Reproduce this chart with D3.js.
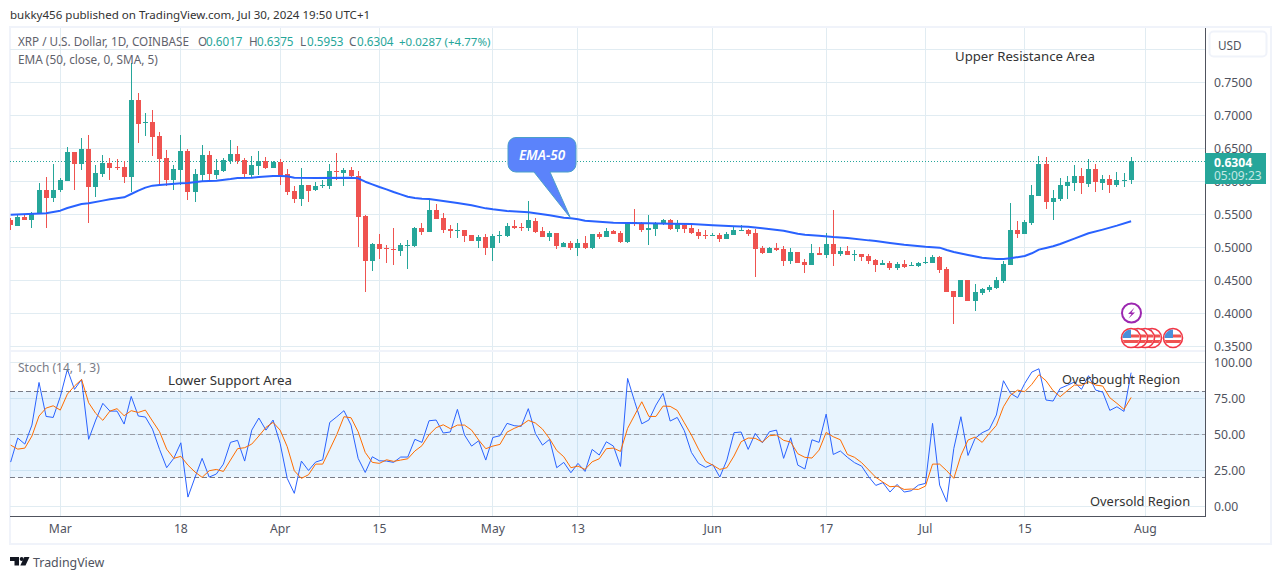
<!DOCTYPE html>
<html>
<head>
<meta charset="utf-8">
<script src="https://cdn.jsdelivr.net/npm/d3@7"></script>
<style>
  html, body { margin: 0; padding: 0; background: #fff; }
  svg { display: block; }
  text { font-family: "Noto Sans", sans-serif; }
</style>
</head>
<body>
<svg id="chart" width="1281" height="579"></svg>
<script>
// Daily candles, one entry per day starting Feb 23 2024
const firstDay = new Date(Date.UTC(2024, 1, 23));

const opens = [
  .5414,.5323,.5459,.5414,.5505,.5869,.5747,.5869,.6005,.6444,
  .6262,.6490,.5914,.6111,.6278,.6217,.6217,.6066,.7232,.6884,
  .6899,.6687,.6353,.6020,.6172,.6459,.5838,.6096,.6399,.6096,
  .6156,.6308,.6414,.6323,.6096,.6232,.6308,.6202,.6293,.6111,
  .5853,.5732,.5944,.5868,.5929,.5929,.6156,.6126,.6171,.6080,
  .5474,.4792,.5050,.4994,.4974,.4944,.5025,.5020,.5292,.5232,
  .5565,.5444,.5277,.5252,.5262,.5186,.5095,.5156,.4989,.5176,
  .5171,.5323,.5307,.5292,.5398,.5247,.5156,.5217,.5004,.5065,
  .4989,.5065,.4989,.5201,.5156,.5247,.5217,.5080,.5383,.5368,
  .5262,.5277,.5353,.5414,.5277,.5338,.5292,.5232,.5186,.5176,
  .5186,.5126,.5186,.5252,.5262,.5217,.4989,.4914,.4989,.4974,
  .4792,.4929,.4777,.4732,.4914,.4883,.5050,.4898,.4944,.4883,
  .4899,.4869,.4808,.4732,.4763,.4687,.4747,.4717,.4717,.4763,
  .4763,.4853,.4672,.4338,.4247,.4505,.4187,.4308,.4353,.4384,
  .4490,.4732,.5262,.5202,.5369,.5778,.6262,.5687,.5732,.5929,
  .5975,.6081,.5959,.6187,.5975,.6035,.5944,.6010,.6017
];
const highs = [
  .5444,.5490,.5490,.5535,.5975,.6066,.6262,.6050,.6520,.6444,
  .6656,.6702,.6247,.6399,.6353,.6338,.6303,.7793,.7338,.7035,
  .7080,.6747,.6475,.6247,.6702,.6490,.6187,.6550,.6459,.6338,
  .6353,.6626,.6535,.6353,.6384,.6459,.6368,.6308,.6338,.6187,
  .5929,.6201,.5944,.5989,.6020,.6262,.6429,.6201,.6216,.6156,
  .5489,.5065,.5201,.5035,.5292,.5065,.5110,.5307,.5368,.5716,
  .5656,.5520,.5338,.5368,.5262,.5186,.5186,.5201,.5201,.5247,
  .5368,.5413,.5368,.5701,.5444,.5307,.5247,.5217,.5080,.5095,
  .5126,.5171,.5201,.5232,.5292,.5262,.5247,.5383,.5580,.5383,
  .5489,.5383,.5429,.5429,.5414,.5368,.5338,.5277,.5262,.5217,
  .5217,.5232,.5307,.5338,.5277,.5277,.5020,.5004,.5065,.5020,
  .4989,.4929,.4823,.5050,.5004,.5217,.5565,.5004,.5020,.4959,
  .4899,.4899,.4823,.4808,.4793,.4778,.4808,.4778,.4778,.4853,
  .4884,.4869,.4702,.4338,.4505,.4505,.4444,.4384,.4429,.4550,
  .4793,.5672,.5399,.5414,.5944,.6384,.6368,.5869,.6050,.6081,
  .6247,.6202,.6338,.6262,.6096,.6096,.6141,.6126,.6375
];
const lows = [
  .5262,.5323,.5414,.5293,.5505,.5293,.5687,.5838,.6005,.5869,
  .6172,.5368,.5762,.6066,.6020,.6172,.5975,.5838,.6581,.6687,
  .6384,.5959,.5929,.5869,.5944,.5717,.5687,.5990,.5990,.6035,
  .6141,.6262,.6262,.6066,.6050,.6096,.6187,.6202,.5944,.5793,
  .5672,.5626,.5686,.5853,.5898,.5883,.6020,.5929,.6035,.5004,
  .4323,.4641,.4823,.4762,.4732,.4868,.4671,.5004,.5186,.5232,
  .5429,.5217,.5141,.5141,.5080,.5095,.4989,.4883,.4792,.5065,
  .5156,.5277,.5247,.5247,.5217,.5156,.5095,.4974,.5004,.4959,
  .4868,.4974,.4974,.5126,.5156,.5201,.5065,.5065,.5323,.5232,
  .5035,.5171,.5338,.5262,.5232,.5217,.5201,.5126,.5126,.5171,
  .5080,.5126,.5186,.5247,.5171,.4550,.4898,.4914,.4944,.4717,
  .4747,.4762,.4611,.4732,.4883,.4838,.4717,.4868,.4883,.4792,
  .4793,.4747,.4626,.4732,.4657,.4657,.4687,.4717,.4702,.4747,
  .4763,.4611,.4323,.3838,.4247,.4187,.4035,.4278,.4323,.4369,
  .4460,.4732,.5141,.5202,.5338,.5778,.5581,.5414,.5702,.5732,
  .5853,.5808,.5914,.5838,.5869,.5823,.5914,.5914,.5953
];
const closes = [
  .5338,.5459,.5414,.5520,.5869,.5747,.5869,.6020,.6444,.6262,
  .6490,.5914,.6126,.6278,.6202,.6202,.6066,.7232,.6868,.6899,
  .6671,.6338,.6020,.6187,.6459,.5838,.6111,.6399,.6111,.6172,
  .6323,.6414,.6308,.6111,.6247,.6308,.6202,.6293,.6096,.5838,
  .5732,.5944,.5853,.5929,.5944,.6156,.6141,.6171,.6080,.5459,
  .4792,.5050,.4974,.4979,.4959,.5035,.5035,.5292,.5232,.5565,
  .5429,.5262,.5252,.5262,.5171,.5095,.5156,.4989,.5171,.5186,
  .5323,.5292,.5297,.5413,.5232,.5156,.5217,.5020,.5065,.4989,
  .5065,.4989,.5201,.5156,.5247,.5201,.5080,.5378,.5363,.5262,
  .5292,.5368,.5414,.5277,.5348,.5277,.5217,.5171,.5176,.5186,
  .5126,.5201,.5262,.5262,.5201,.4974,.4914,.4989,.4959,.4792,
  .4929,.4762,.4732,.4914,.4883,.5050,.4898,.4944,.4883,.4898,
  .4853,.4793,.4732,.4763,.4687,.4747,.4702,.4732,.4763,.4778,
  .4853,.4657,.4323,.4247,.4505,.4187,.4323,.4369,.4399,.4505,
  .4747,.5262,.5202,.5384,.5793,.6262,.5687,.5747,.5944,.5990,
  .6081,.5975,.6187,.5990,.6035,.5944,.6020,.6020,.6304
];

// EMA-50, read at the days where the line bends
const emaDays = [
  0,5,7,8,10,11,13,14,16,17,18,19,20,21,24,25,27,29,31,32,34,35,37,38,39,40,43,48,
  49,50,51,52,53,54,55,56,57,58,59,61,63,65,67,68,70,73,74,76,78,79,80,81,83,85,87,
  90,93,96,99,102,104,106,109,111,112,114,116,118,121,122,124,126,129,131,132,133,
  135,137,139,140,141,143,144,145,146,147,148,150,152,154,156,158
];
const emaValues = [
  .5495,.5515,.5555,.5596,.5656,.5667,.5707,.5727,.5757,.5808,.5858,.5904,.5934,.5944,
  .5970,.5975,.6000,.6010,.6035,.6050,.6055,.6066,.6081,.6081,.6076,.6055,.6050,.6055,
  .6045,.5994,.5954,.5913,.5878,.5838,.5802,.5767,.5747,.5737,.5732,.5701,.5671,.5636,
  .5590,.5575,.5550,.5530,.5515,.5484,.5449,.5439,.5424,.5403,.5388,.5373,.5368,
  .5363,.5358,.5353,.5333,.5318,.5312,.5287,.5252,.5206,.5191,.5176,.5156,.5141,.5105,
  .5096,.5066,.5040,.5010,.4995,.4960,.4929,.4884,.4843,.4823,.4823,.4833,.4869,.4909,
  .4965,.4990,.5015,.5050,.5131,.5212,.5268,.5328,.5394
];

// Stochastic (14, 1, 3)
const stochK = [
  30.7,47.4,43.2,56.4,86.0,62.4,61.7,76.1,95.1,81.2,
  88.1,46.5,59.9,71.5,66.1,66.1,57.1,76.3,62.7,62.0,
  53.6,39.5,26.8,33.3,44.1,6.4,20.1,33.3,20.3,22.4,
  29.3,44.4,45.8,31.4,52.9,61.3,52.9,59.9,43.7,19.4,
  9.0,31.4,24.9,30.7,32.3,58.3,62.2,66.4,56.4,33.3,
  23.5,34.4,31.6,31.4,30.5,34.2,34.2,46.5,44.4,59.4,
  59.9,50.9,51.6,67.3,49.5,41.8,45.5,32.1,47.8,49.0,
  57.6,56.0,55.5,67.8,50.6,42.5,46.5,26.8,30.5,23.3,
  29.8,24.2,39.5,35.6,44.8,41.8,27.7,88.8,72.6,57.3,
  59.9,70.3,78.4,59.2,61.7,52.5,37.4,29.8,27.0,29.1,
  20.3,32.1,51.1,51.6,39.5,50.6,44.1,51.8,52.9,33.3,
  47.6,28.6,25.9,46.2,44.4,64.0,36.0,38.4,34.0,30.3,
  27.9,20.5,14.5,16.4,9.9,15.2,9.9,10.8,14.7,15.9,
  57.6,14.7,3.2,40.2,62.2,35.3,47.2,51.1,53.4,63.4,
  87.2,78.4,75.4,85.3,93.2,95.5,73.8,73.1,81.9,84.0,
  86.3,81.2,90.7,80.7,79.3,66.6,69.1,65.9,92.8
];
const stochD = [
  42.5,39.7,40.4,48.8,62.7,68.2,69.8,66.8,77.9,83.5,
  88.1,71.9,64.5,59.7,66.1,67.8,62.9,66.4,65.2,66.8,
  59.2,51.8,39.7,33.3,34.7,28.6,23.8,20.1,24.7,25.6,
  24.2,32.1,40.0,40.7,43.2,48.8,54.8,58.3,52.9,41.4,
  24.7,19.4,21.9,29.3,29.3,39.5,49.9,62.2,61.5,51.8,
  37.4,30.5,29.8,32.3,31.2,32.1,33.0,38.4,42.1,49.7,
  54.6,56.6,53.9,56.4,56.4,52.9,46.0,40.0,41.8,43.0,
  51.5,54.1,56.2,59.7,57.8,53.6,46.9,38.8,34.4,26.8,
  27.9,25.6,30.9,33.0,40.0,40.4,38.1,54.1,63.4,72.6,
  62.4,62.4,69.6,69.4,66.6,58.0,49.5,39.7,31.2,28.6,
  25.6,26.8,34.9,44.8,47.4,47.2,44.6,49.0,49.5,45.8,
  44.6,36.5,34.0,33.5,39.0,51.3,48.3,46.2,36.0,34.0,
  30.3,25.2,20.1,16.8,13.6,14.0,11.7,12.0,11.7,14.0,
  29.3,29.3,24.7,19.4,35.3,46.0,48.1,44.4,50.6,56.2,
  69.1,77.2,80.7,79.6,84.7,91.4,87.2,80.3,76.1,80.3,
  84.2,84.0,86.5,84.2,83.5,75.4,71.5,67.3,75.6
];

const priceTicks = [0.75, 0.70, 0.65, 0.60, 0.55, 0.50, 0.45, 0.40, 0.35];
const priceGrid = [0.80].concat(priceTicks);
const stochTicks = [100, 75, 50, 25, 0];
const stochBands = [80, 50, 20];
const timeTickDates = [[2,1],[2,18],[3,1],[3,15],[4,1],[4,13],[5,1],[5,17],[6,1],[6,15],[7,1]]
  .map(d => new Date(Date.UTC(2024, d[0], d[1])));
const timeTickLabels = ["Mar","18","Apr","15","May","13","Jun","17","Jul","15","Aug"];

const GREEN = "#26a69a", RED = "#ef5350", GRID = "#e1ecf2", FRAME = "#f0f3fa", INK = "#50535e";

const svg = d3.select("#chart");

// scales
const x = d3.scaleUtc()
  .domain([firstDay, d3.utcDay.offset(firstDay, 158)])
  .range([10.65, 1131.1]);
const dayX = i => x(d3.utcDay.offset(firstDay, i));
const yPrice = d3.scaleLinear().domain([0.35, 0.75]).range([346.3, 82.3]);
const yStoch = d3.scaleLinear().domain([0, 100]).range([506.3, 362.3]);

const snap = v => Math.floor(v) + 0.5;

// clips for the two panes
const defs = svg.append("defs");
defs.append("clipPath").attr("id", "pricePane").append("rect")
  .attr("x", 10).attr("y", 28).attr("width", 1195).attr("height", 322);
defs.append("clipPath").attr("id", "stochPane").append("rect")
  .attr("x", 10).attr("y", 352).attr("width", 1195).attr("height", 164);

// frame
svg.append("rect").attr("x", 10).attr("y", 27).attr("width", 1261).attr("height", 517)
  .attr("fill", "#fff").attr("stroke", FRAME).attr("stroke-width", 2);

// grid
const grid = svg.append("g").attr("fill", "none").attr("stroke", GRID);
grid.selectAll(".v1").data(timeTickDates).join("line")
  .attr("x1", d => snap(x(d))).attr("x2", d => snap(x(d))).attr("y1", 28).attr("y2", 350);
grid.selectAll(".v2").data(timeTickDates).join("line").attr("class", "v2")
  .attr("x1", d => snap(x(d))).attr("x2", d => snap(x(d))).attr("y1", 352).attr("y2", 516);
grid.selectAll(".h1").data(priceGrid).join("line").attr("class", "h1")
  .attr("x1", 10).attr("x2", 1205).attr("y1", d => snap(yPrice(d))).attr("y2", d => snap(yPrice(d)));
grid.selectAll(".h2").data(stochTicks).join("line").attr("class", "h2")
  .attr("x1", 10).attr("x2", 1205).attr("y1", d => snap(yStoch(d))).attr("y2", d => snap(yStoch(d)));

// stochastic band under the lines
svg.append("rect")
  .attr("x", 10).attr("width", 1195)
  .attr("y", yStoch(80)).attr("height", yStoch(20) - yStoch(80))
  .attr("fill", "#2196f3").attr("fill-opacity", 0.1);
svg.append("g").selectAll("line").data(stochBands).join("line")
  .attr("x1", 10).attr("x2", 1205)
  .attr("y1", d => snap(yStoch(d))).attr("y2", d => snap(yStoch(d)))
  .attr("stroke", d => d === 50 ? "#9a9da6" : "#787b86")
  .attr("stroke-dasharray", "5 3");

// pane separators and axis lines
svg.append("rect").attr("x", 10).attr("y", 350).attr("width", 1196).attr("height", 2).attr("fill", FRAME);
svg.append("line").attr("x1", 10).attr("x2", 1205.5).attr("y1", 516.5).attr("y2", 516.5).attr("stroke", "#50535e");
svg.append("line").attr("x1", 1205.5).attr("x2", 1205.5).attr("y1", 28).attr("y2", 517).attr("stroke", "#50535e");

// last price dotted line
svg.append("line").attr("x1", 10).attr("x2", 1205)
  .attr("y1", snap(yPrice(closes[158]))).attr("y2", snap(yPrice(closes[158])))
  .attr("stroke", GREEN).attr("stroke-dasharray", "1 2");

// candles
const candles = svg.append("g").attr("clip-path", "url(#pricePane)")
  .selectAll("g").data(d3.range(opens.length)).join("g")
  .attr("fill", i => closes[i] >= opens[i] ? GREEN : RED);
candles.append("rect")
  .attr("x", i => Math.round(dayX(i) - 2.5) + 2).attr("width", 1)
  .attr("y", i => Math.round(yPrice(highs[i])))
  .attr("height", i => Math.round(yPrice(lows[i])) - Math.round(yPrice(highs[i])));
candles.append("rect")
  .attr("x", i => Math.round(dayX(i) - 2.5)).attr("width", 5)
  .attr("y", i => Math.round(yPrice(Math.max(opens[i], closes[i]))))
  .attr("height", i => Math.max(1, Math.round(yPrice(Math.min(opens[i], closes[i]))) - Math.round(yPrice(Math.max(opens[i], closes[i])))));

// EMA line
const emaLine = d3.line().x(d => dayX(d)).y((d, i) => yPrice(emaValues[i]));
svg.append("path").attr("clip-path", "url(#pricePane)")
  .attr("d", emaLine(emaDays)).attr("fill", "none")
  .attr("stroke", "#2962ff").attr("stroke-width", 2).attr("stroke-linejoin", "round");

// stochastic lines
const stochLine = values => d3.line().x((d, i) => dayX(i)).y(d => yStoch(d))(values);
const stochG = svg.append("g").attr("clip-path", "url(#stochPane)").attr("fill", "none");
stochG.append("path").attr("d", stochLine(stochK)).attr("stroke", "#2962ff").attr("stroke-width", 1);
stochG.append("path").attr("d", stochLine(stochD)).attr("stroke", "#ff6d00").attr("stroke-width", 1);

// axes
const styleAxis = g => {
  g.select(".domain").remove();
  g.selectAll("line").remove();
  g.selectAll("text").attr("fill", INK).style("font-size", "12.2px");
};
svg.append("g").attr("transform", "translate(1214,0)")
  .call(d3.axisRight(yPrice).tickValues(priceTicks).tickSize(0).tickPadding(0).tickFormat(d3.format(".4f")))
  .call(styleAxis);
svg.append("g").attr("transform", "translate(1214,0)")
  .call(d3.axisRight(yStoch).tickValues(stochTicks).tickSize(0).tickPadding(0).tickFormat(d3.format(".2f")))
  .call(styleAxis);
svg.append("g").attr("transform", "translate(-0.5,524.5)")
  .call(d3.axisBottom(x).tickValues(timeTickDates).tickSize(0).tickPadding(0)
    .tickFormat((d, i) => timeTickLabels[i]))
  .call(styleAxis);

// helper for plain labels
const label = (str, px, py, fill, size, extra) => {
  const t = svg.append("text").attr("x", px).attr("y", py).attr("fill", fill)
    .attr("dominant-baseline", "central").style("font-size", size + "px").text(str);
  if (extra) extra(t);
  return t;
};

// header and legend
label("bukky456 published on TradingView.com, Jul 30, 2024 19:50 UTC+1", 10, 14, "#333", 11.55);
label("XRP / U.S. Dollar, 1D, COINBASE", 18, 41, "#5f626c", 11.7);
[["O", 198, "0.6017", 206], ["H", 249, "0.6375", 257], ["L", 300, "0.5953", 307], ["C", 349, "0.6304", 357]]
  .forEach(d => {
    label(d[0], d[1], 41, "#5f626c", 11.7);
    label(d[2], d[3], 41, GREEN, 11.7);
  });
label("+0.0287 (+4.77%)", 399, 41, GREEN, 11.5);
label("EMA (50, close, 0, SMA, 5)", 18, 59, "#5f626c", 11.8);
label("Stoch (14, 1, 3)", 18, 367, "#787b86", 12);

// annotations
label("Upper Resistance Area", 955, 56, "#333", 13.2);
label("Lower Support Area", 168, 380, "#333", 13.3);
label("Overbought Region", 1062, 379, "#333", 12.8);
label("Oversold Region", 1090, 501, "#333", 12.9);

// EMA-50 callout
svg.append("path")
  .attr("d", "M516 137.5H568a8 8 0 0 1 8 8V164a8 8 0 0 1 -8 8H550L570.5 218L534 172H516a8 8 0 0 1 -8 -8V145.5a8 8 0 0 1 8 -8Z")
  .attr("fill", "#5b83fb").attr("stroke", "#4b9fc9").attr("stroke-width", 1);
label("EMA-50", 542, 154.5, "#fff", 13.5, t => t.attr("text-anchor", "middle")
  .style("font-style", "italic").style("font-weight", 600));

// USD button
svg.append("rect").attr("x", 1209.5).attr("y", 31.5).attr("width", 57).attr("height", 25).attr("rx", 4)
  .attr("fill", "#fff").attr("stroke", FRAME).attr("stroke-width", 2);
label("USD", 1218, 45, "#50535e", 11.7);

// last price tag
svg.append("rect").attr("x", 1205).attr("y", 153).attr("width", 61).attr("height", 31).attr("fill", GREEN);
label("0.6304", 1214, 162, "#fff", 12.2, t => t.style("font-weight", 700));
label("05:09:23", 1214, 175.5, "#c4e8e4", 12);

// event markers
const marks = svg.append("g");
marks.append("circle").attr("cx", 1131.5).attr("cy", 313).attr("r", 9.5)
  .attr("fill", "#fff").attr("stroke", "#9c27b0").attr("stroke-width", 2);
marks.append("path").attr("d", "M1134.5 307.5L1128 314H1131.5L1128.5 318.5L1135 312.5H1131.5Z").attr("fill", "#9c27b0");

const flag = cx => {
  const g = marks.append("g").attr("transform", `translate(${cx},338)`);
  const id = "flag" + Math.round(cx);
  defs.append("clipPath").attr("id", id).append("circle").attr("r", 8.5);
  g.append("circle").attr("r", 9.5).attr("fill", "#fff").attr("stroke", "#f23645").attr("stroke-width", 1.6);
  const inner = g.append("g").attr("clip-path", `url(#${id})`);
  inner.append("rect").attr("x", -9).attr("y", -3.5).attr("width", 18).attr("height", 3).attr("fill", "#ef5350");
  inner.append("rect").attr("x", -9).attr("y", 2).attr("width", 18).attr("height", 3).attr("fill", "#ef5350");
  inner.append("rect").attr("x", -9).attr("y", -9).attr("width", 9).attr("height", 9).attr("fill", "#4a90d9");
};
[1173, 1152, 1145, 1138, 1131].forEach(flag);

// TradingView logo
const logo = svg.append("g").attr("fill", "#131722");
logo.append("path").attr("d", "M10 557H19V565.5H14.5V561H10Z");
logo.append("circle").attr("cx", 21.7).attr("cy", 559).attr("r", 2);
logo.append("path").attr("d", "M24.3 557H29.5L25.5 565.5H20.3Z");
label("TradingView", 33, 562, "#50535e", 12.4);
</script>
</body>
</html>
